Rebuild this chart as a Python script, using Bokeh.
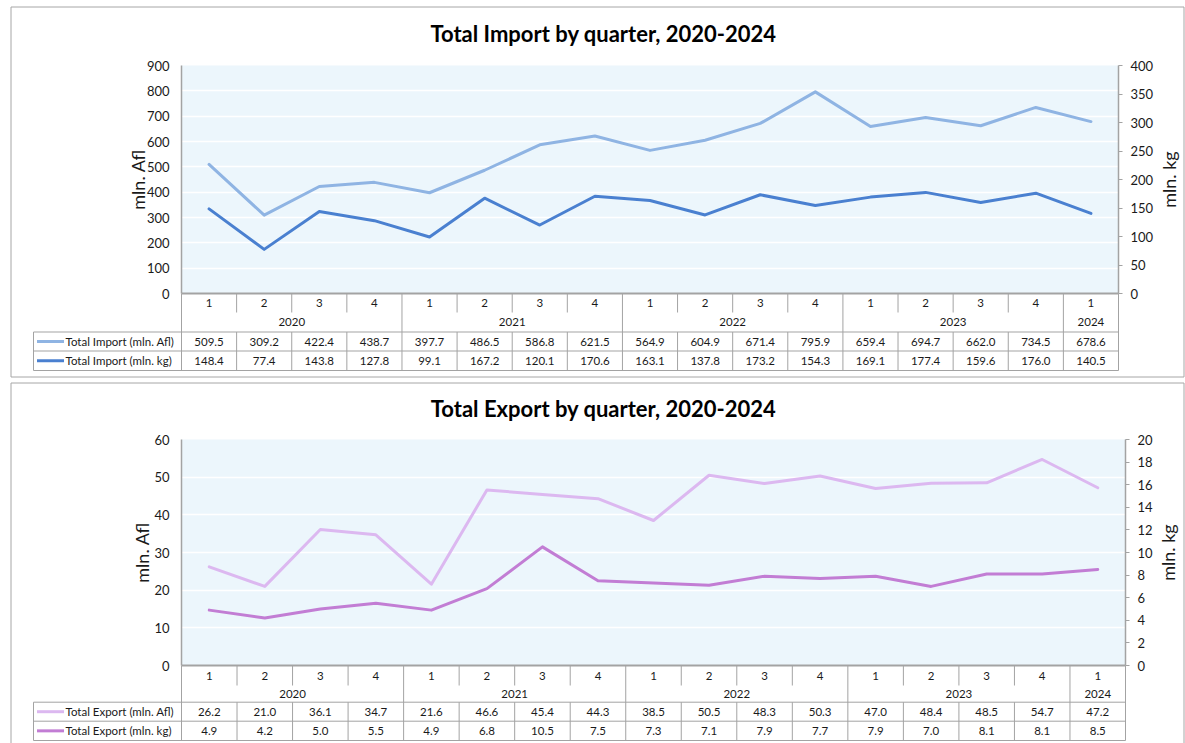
import math
from bokeh.plotting import figure
from bokeh.models import Range1d, LinearAxis, SingleIntervalTicker
from bokeh.core.properties import value
from bokeh.embed import file_html
from bokeh.resources import INLINE

# ---------------- data ----------------
quarters = ["1", "2", "3", "4", "1", "2", "3", "4", "1", "2", "3", "4",
            "1", "2", "3", "4", "1"]
year_labels = ["2020", "2021", "2022", "2023", "2024"]
year_sizes = [4, 4, 4, 4, 1]

import_afl = [509.5, 309.2, 422.4, 438.7, 397.7, 486.5, 586.8, 621.5, 564.9,
              604.9, 671.4, 795.9, 659.4, 694.7, 662.0, 734.5, 678.6]
import_kg = [148.4, 77.4, 143.8, 127.8, 99.1, 167.2, 120.1, 170.6, 163.1,
             137.8, 173.2, 154.3, 169.1, 177.4, 159.6, 176.0, 140.5]
export_afl = [26.2, 21.0, 36.1, 34.7, 21.6, 46.6, 45.4, 44.3, 38.5,
              50.5, 48.3, 50.3, 47.0, 48.4, 48.5, 54.7, 47.2]
export_kg = [4.9, 4.2, 5.0, 5.5, 4.9, 6.8, 10.5, 7.5, 7.3,
             7.1, 7.9, 7.7, 7.9, 7.0, 8.1, 8.1, 8.5]

import_names = ["Total Import (mln. Afl)", "Total Import (mln. kg)"]
export_names = ["Total Export (mln. Afl)", "Total Export (mln. kg)"]

# ---------------- style ----------------
FONT = "Lato"
TXT = "#1a1a1a"
GRID_GRAY = "#a3a3a3"
BG = "#ecf6fc"
IMP_COLORS = ["#8fb4e3", "#4a80d0"]
EXP_COLORS = ["#dcb8f0", "#c27dd4"]


def build_panel(title, names, afl, kg, colors, afl_max, afl_step, kg_max, kg_step, g):
    n = len(afl)
    W, H, FL, FR, FT, FB = g["W"], g["H"], g["FL"], g["FR"], g["FT"], g["FB"]
    p = figure(width=W, height=H, output_backend="svg", toolbar_location=None,
               x_range=Range1d(-0.5, n - 0.5), y_range=Range1d(0, afl_max),
               min_border_left=FL, min_border_right=W - FR,
               min_border_top=FT, min_border_bottom=H - FB,
               x_axis_location=None, y_axis_location="left")
    p.extra_y_ranges = {"kg": Range1d(0, kg_max)}
    p.background_fill_color = BG
    p.border_fill_color = "white"
    p.outline_line_color = None
    p.xgrid.visible = False
    p.ygrid.grid_line_color = "white"
    p.ygrid.grid_line_width = 1.5
    p.ygrid.ticker = SingleIntervalTicker(interval=afl_step, num_minor_ticks=0)

    # left axis
    ya = p.yaxis[0]
    ya.ticker = SingleIntervalTicker(interval=afl_step, num_minor_ticks=0)
    ya.axis_label = "mln. Afl"
    ya.axis_label_text_font = FONT
    ya.axis_label_text_font_size = "18px"
    ya.axis_label_text_font_style = "normal"
    ya.axis_label_text_color = TXT
    ya.axis_label_standoff = g["lstand"]
    ya.major_label_text_font = FONT
    ya.major_label_text_font_size = "13px"
    ya.major_label_text_color = TXT
    ya.major_label_standoff = 12
    ya.major_tick_out = 0
    ya.major_tick_in = 0
    ya.minor_tick_out = 0
    ya.minor_tick_in = 0
    ya.axis_line_color = GRID_GRAY
    ya.axis_line_width = 1.5

    # right axis
    ra = LinearAxis(y_range_name="kg",
                    ticker=SingleIntervalTicker(interval=kg_step, num_minor_ticks=0))
    ra.major_label_text_font = FONT
    ra.major_label_text_font_size = "13px"
    ra.major_label_text_color = TXT
    ra.major_label_standoff = 8
    ra.major_tick_out = 4
    ra.major_tick_in = 0
    ra.minor_tick_out = 0
    ra.minor_tick_in = 0
    ra.major_tick_line_color = GRID_GRAY
    ra.axis_line_color = GRID_GRAY
    ra.axis_line_width = 1.5
    p.add_layout(ra, "right")

    xs = list(range(n))
    p.line(xs, afl, line_color=colors[0], line_width=3, line_join="round", line_cap="round")
    p.line(xs, kg, line_color=colors[1], line_width=3, line_join="round", line_cap="round",
           y_range_name="kg")

    # pixel (figure coords) -> data helpers, for layout only
    def dx(px):
        return -0.5 + (px - FL) / (FR - FL) * n

    def dy(py):
        return afl_max * (FB - py) / (FB - FT)

    # right axis title (reads bottom-to-top, like the left one)
    p.text([dx(g["rlx"])], [afl_max / 2], text=["mln. kg"], angle=math.pi / 2,
           text_font=value(FONT), text_font_size="18px", text_color=TXT,
           text_align="center", text_baseline="middle", level="overlay")

    q_bot, yr_bot, r1_bot, r2_bot = g["q_bot"], g["yr_bot"], g["r1_bot"], g["r2_bot"]
    leg_left = dx(g["leg_left"])

    # table lines
    year_bounds = [-0.5]
    for s in year_sizes:
        year_bounds.append(year_bounds[-1] + s)
    x0s, y0s, x1s, y1s = [], [], [], []
    for i in range(n + 1):
        b = i - 0.5
        if b in year_bounds:
            x0s.append(b); y0s.append(dy(FB)); x1s.append(b); y1s.append(dy(r2_bot))
        else:
            x0s.append(b); y0s.append(dy(FB)); x1s.append(b); y1s.append(dy(q_bot))
            x0s.append(b); y0s.append(dy(yr_bot)); x1s.append(b); y1s.append(dy(r2_bot))
    x0s.append(leg_left); y0s.append(dy(yr_bot)); x1s.append(leg_left); y1s.append(dy(r2_bot))
    for yy in (yr_bot, r1_bot, r2_bot):
        x0s.append(leg_left); y0s.append(dy(yy)); x1s.append(n - 0.5); y1s.append(dy(yy))
    p.segment(x0s, y0s, x1s, y1s, line_color=GRID_GRAY, line_width=1, level="overlay")
    # category axis line
    p.segment([-0.5], [0], [n - 0.5], [0], line_color=GRID_GRAY, line_width=2, level="overlay")

    tstyle = dict(text_font=value(FONT), text_font_size="11.5px", text_color=TXT,
                  text_align="center", text_baseline="middle", level="overlay")
    # quarter labels
    p.text(xs, [dy((FB + q_bot) / 2)] * n, text=quarters, **tstyle)
    # year labels
    yx = [(year_bounds[k] + year_bounds[k + 1]) / 2 for k in range(len(year_labels))]
    p.text(yx, [dy((q_bot + yr_bot) / 2)] * len(yx), text=year_labels, **tstyle)
    # values
    p.text(xs, [dy((yr_bot + r1_bot) / 2)] * n, text=[f"{v:.1f}" for v in afl], **tstyle)
    p.text(xs, [dy((r1_bot + r2_bot) / 2)] * n, text=[f"{v:.1f}" for v in kg], **tstyle)

    # legend keys
    rows_c = [dy((yr_bot + r1_bot) / 2), dy((r1_bot + r2_bot) / 2)]
    p.segment([dx(g["key0"])] * 2, rows_c, [dx(g["key1"])] * 2, rows_c,
              line_color=colors, line_width=3, level="overlay")
    p.text([dx(g["key1"] + 1.5)] * 2, rows_c, text=names,
           text_font=value(FONT), text_font_size="11.5px", text_color=TXT,
           text_align="left", text_baseline="middle", level="overlay")

    # title
    p.text([dx(g["tx"])], [dy(g["ty"])], text=[title], text_font=value(FONT),
           text_font_size="22px", text_font_style="bold", text_color="#000000",
           text_align="center", text_baseline="middle", level="overlay")

    # panel border
    p.quad(left=[dx(g["bl"])], right=[dx(g["br"])], top=[dy(g["btop"])], bottom=[dy(g["bbot"])],
           fill_color=None, line_color="#a6a6a6", line_width=1, level="overlay")
    return p


g1 = dict(W=1185, H=379, FL=181, FR=1118, FT=65, FB=293,
          q_bot=312, yr_bot=331.5, r1_bot=350.5, r2_bot=370, leg_left=33,
          key0=36.5, key1=63.5, tx=603, ty=33, bl=10.5, br=1183.5, btop=6.5, bbot=376.5,
          lstand=-5, rlx=1168)
g2 = dict(W=1185, H=364, FL=181, FR=1125, FT=60, FB=286,
          q_bot=306, yr_bot=322.7, r1_bot=341.7, r2_bot=361, leg_left=33,
          key0=36.5, key1=63.5, tx=603, ty=29, bl=10.5, br=1183.5, btop=3.5, bbot=372,
          lstand=-2, rlx=1167.5)

p1 = build_panel("Total Import by quarter, 2020-2024", import_names, import_afl, import_kg,
                 IMP_COLORS, 900, 100, 400, 50, g1)
p2 = build_panel("Total Export by quarter, 2020-2024", export_names, export_afl, export_kg,
                 EXP_COLORS, 60, 10, 20, 2, g2)

# two independent roots, stacked, so each keeps its own plot-area geometry
open("out.html", "w").write(file_html([p1, p2], INLINE))
